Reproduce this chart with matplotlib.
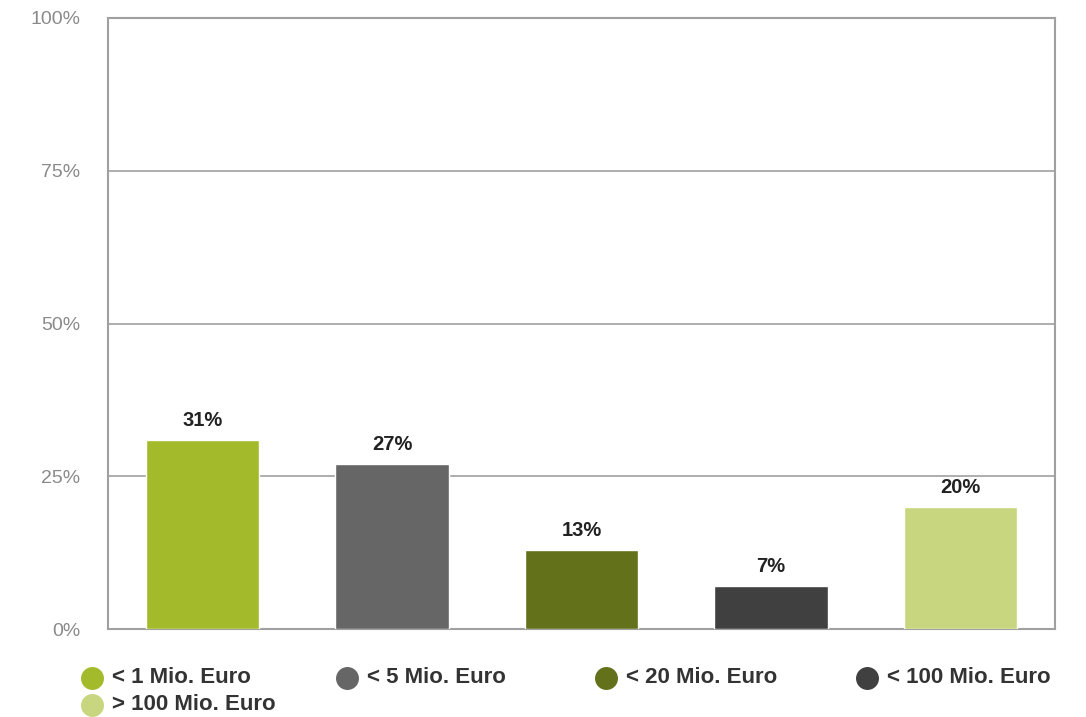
import matplotlib.pyplot as plt
from matplotlib.lines import Line2D

plt.rcParams['font.family'] = ['Liberation Sans', 'DejaVu Sans']

categories = ['< 1 Mio. Euro', '< 5 Mio. Euro', '< 20 Mio. Euro', '< 100 Mio. Euro', '> 100 Mio. Euro']
shares = [31, 27, 13, 7, 20]
colors = ['#a3bb2a', '#666666', '#62711a', '#404040', '#c8d67f']
yticks = [0, 25, 50, 75, 100]

fig = plt.figure(figsize=(10.86, 7.17), dpi=100)
ax = fig.add_axes([0.0994, 0.1227, 0.8721, 0.8522])

x = range(len(categories))
bars = ax.bar(x, shares, width=0.6, color=colors, edgecolor='white', linewidth=1, zorder=3)

# value labels above the bars
for xi, v in zip(x, shares):
    ax.text(xi, v + 1.6, f'{v}%', ha='center', va='bottom', fontsize=14.5,
            fontweight='bold', color='#222222', zorder=4)

ax.set_xlim(-0.5, len(categories) - 0.5)
ax.set_ylim(0, 100)
ax.set_yticks(yticks)
ax.set_yticklabels([f'{t}%' for t in yticks])
ax.set_xticks([])
ax.tick_params(axis='y', length=0, pad=20, labelsize=14, labelcolor='#8a8a8a')
ax.grid(axis='y', color='#a0a0a0', linewidth=1.2, zorder=1)
for side in ['left', 'right', 'bottom', 'top']:
    ax.spines[side].set_color('#a0a0a0')
    ax.spines[side].set_linewidth(1.5)

# legend laid out in four columns, fifth entry wraps to a second row
col_x = [0.0847, 0.3195, 0.558, 0.7983]
row_y = [0.0545, 0.0172]
for i, (label, color) in enumerate(zip(categories, colors)):
    cx = col_x[i % 4]
    cy = row_y[i // 4]
    fig.add_artist(Line2D([cx], [cy], marker='o', markersize=15.5, color=color,
                          linestyle='none', transform=fig.transFigure))
    fig.text(cx + 0.0185, cy, label, ha='left', va='center', fontsize=16,
             fontweight='bold', color='#333333')

fig.savefig('out.png', dpi=100)
